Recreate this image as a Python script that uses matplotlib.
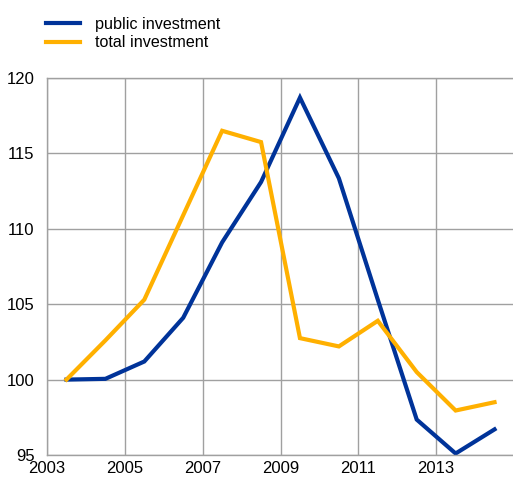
import matplotlib
matplotlib.use('Agg')
import matplotlib.pyplot as plt

plt.rcParams['font.family'] = ['Liberation Sans', 'DejaVu Sans']

years = [2003.5, 2004.5, 2005.5, 2006.5, 2007.5, 2008.5, 2009.5, 2010.5, 2011.5, 2012.5, 2013.5, 2014.5]
public_inv = [100.0, 100.05, 101.2, 104.1, 109.1, 113.1, 118.7, 113.35, 105.3, 97.35, 95.1, 96.7]
total_inv = [100.0, 102.6, 105.3, 110.9, 116.5, 115.75, 102.75, 102.2, 103.9, 100.5, 97.95, 98.5]

xticks = [2003, 2005, 2007, 2009, 2011, 2013]
yticks = [95, 100, 105, 110, 115, 120]

fig = plt.figure(figsize=(5.13, 4.8), dpi=100)
ax = fig.add_axes([47/513, 25/480, 467/513, 377/480])

grid_col = '#a0a0a0'
ax.plot(years, public_inv, color='#003399', lw=3, label='public investment', solid_joinstyle='miter')
ax.plot(years, total_inv, color='#FFB000', lw=3, label='total investment', solid_joinstyle='miter')

ax.set_xlim(2003, 2015)
ax.set_ylim(95, 120)
ax.set_xticks(xticks)
ax.set_yticks(yticks)
ax.set_xticklabels([str(t) for t in xticks])
ax.tick_params(length=0, labelsize=12, colors='black')
ax.tick_params(axis='y', pad=9)
ax.tick_params(axis='x', pad=4)
ax.grid(True, color=grid_col, lw=1)
ax.set_axisbelow(True)
for s in ax.spines.values():
    s.set_color(grid_col)
    s.set_linewidth(1)

fig.legend(loc='upper left', bbox_to_anchor=(46/513, 1 - 17/480), frameon=False,
           fontsize=11.6, handlelength=2.1, handletextpad=0.95, labelspacing=0.2,
           borderaxespad=0, borderpad=0)

fig.savefig('out.png', dpi=100)
